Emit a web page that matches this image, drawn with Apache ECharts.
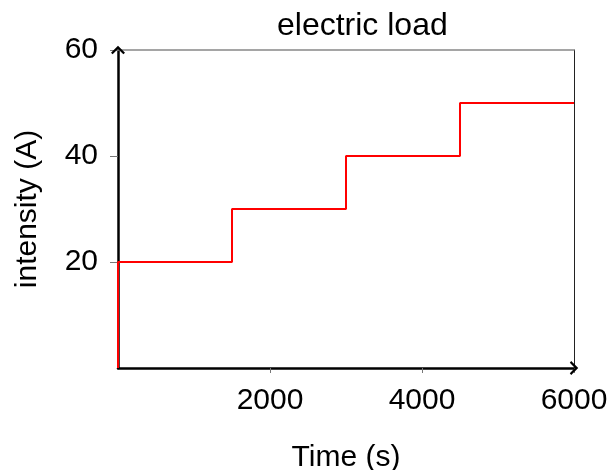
<!DOCTYPE html>
<html><head><meta charset="utf-8">
<script src="https://cdn.jsdelivr.net/npm/echarts@6/dist/echarts.min.js"></script>
<style>html,body{margin:0;padding:0;background:#fff}#c{width:611px;height:470px}</style>
</head><body><div id="c"></div>
<script>
const timeValues = [0, 0, 1500, 3000, 4500, 6000];
const loadValues = [0, 20, 30, 40, 50, 50];
const xTicks = [2000, 4000, 6000];
const yTicks = [20, 40, 60];

const font = 'Liberation Sans, Arial, sans-serif';
const FS = 30;
const chevron = 'path://M6,0 L12,6 L10.6,7.2 L6,2.8 L1.4,7.2 L0,6 Z';
const chart = echarts.init(document.getElementById('c'), null, {renderer: 'canvas'});
chart.setOption({
  animation: false,
  backgroundColor: '#fff',
  graphic: [{
    type: 'text', left: 277, top: 10,
    style: {text: 'electric load', font: '32px ' + font, fill: '#000'}
  }],
  grid: {left: 118, right: 37, top: 50, bottom: 102, containLabel: false, outerBoundsMode: 'none'},
  xAxis: [{
    type: 'value', min: 0, max: 6000, interval: 2000,
    name: 'Time (s)', nameLocation: 'middle', nameGap: 75,
    nameTextStyle: {fontFamily: font, fontSize: FS, color: '#000'},
    axisLine: {show: true, onZero: false, lineStyle: {color: '#000', width: 2.5}, symbol: ['none', chevron], symbolSize: [14, 9]},
    axisTick: {show: true, customValues: xTicks, length: 5, lineStyle: {color: '#777', width: 1}},
    axisLabel: {fontFamily: font, fontSize: FS, color: '#000', margin: 18, customValues: xTicks,
      formatter: v => String(v)},
    splitLine: {show: false}
  }, {
    type: 'value', position: 'top', min: 0, max: 6000,
    axisLine: {show: true, onZero: false, lineStyle: {color: '#888', width: 1.5}},
    axisTick: {show: false}, axisLabel: {show: false}, splitLine: {show: false}
  }],
  yAxis: [{
    type: 'value', min: 0, max: 60, interval: 20,
    name: 'intensity (A)', nameLocation: 'middle', nameGap: 75, nameRotate: 90,
    nameTextStyle: {fontFamily: font, fontSize: FS, color: '#000'},
    axisLine: {show: true, onZero: false, lineStyle: {color: '#000', width: 2.5}, symbol: ['none', chevron], symbolSize: [14, 9]},
    axisTick: {show: true, customValues: yTicks, length: 8, lineStyle: {color: '#777', width: 1}},
    axisLabel: {fontFamily: font, fontSize: FS, color: '#000', margin: 20, customValues: yTicks,
      formatter: v => String(v)},
    splitLine: {show: false}
  }, {
    type: 'value', position: 'right', min: 0, max: 60,
    axisLine: {show: true, onZero: false, lineStyle: {color: '#222', width: 1}},
    axisTick: {show: false}, axisLabel: {show: false}, splitLine: {show: false}
  }],
  series: [{
    type: 'line', step: 'end', showSymbol: false, symbol: 'none',
    xAxisIndex: 0, yAxisIndex: 0, z: 1,
    lineStyle: {color: '#ff0000', width: 2},
    data: timeValues.map((t, i) => [t, loadValues[i]])
  }]
});
</script></body></html>
